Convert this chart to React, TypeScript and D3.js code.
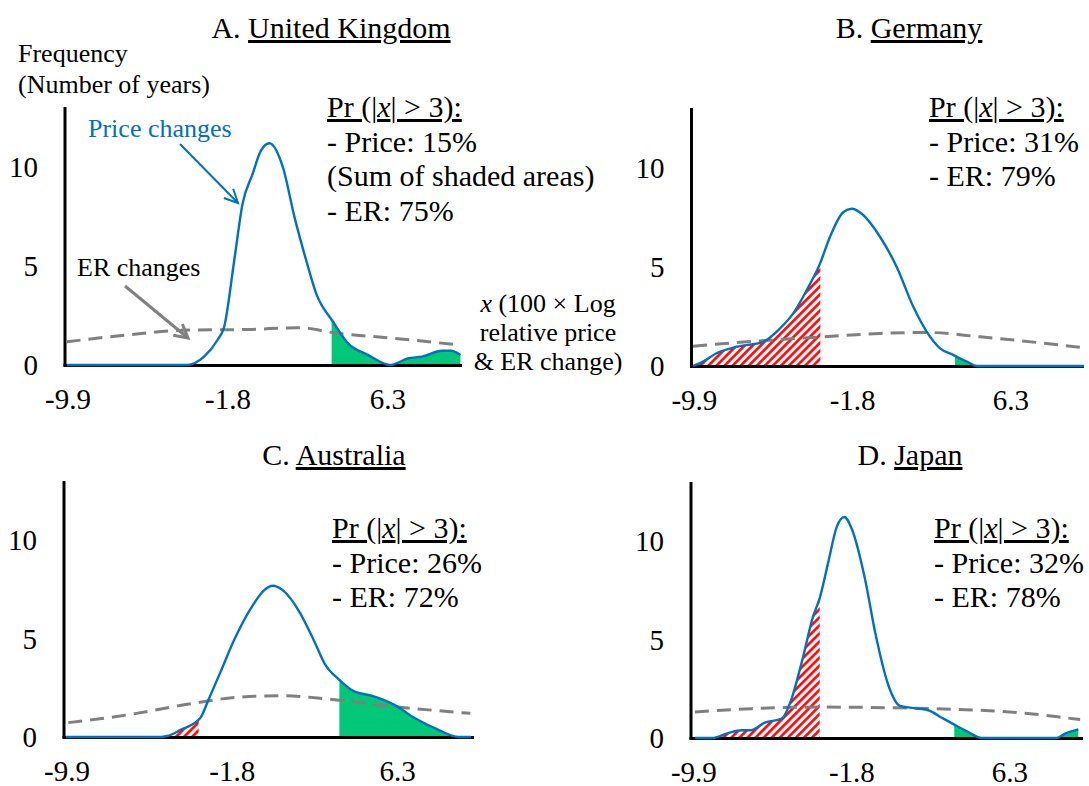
import React from 'react';
import * as d3 from 'd3';

// ---------- data ----------
const xTicks = [-9.9, -1.8, 6.3];
const yTicks = [0, 5, 10];
const xDomain: [number, number] = [-10.05, 10.05];
const yDomain: [number, number] = [0, 13];
const tailCut = [-3.45, 3.45];

type Pt = [number, number];

const ukPrice: Pt[] = [
  [-9.95, 0], [-6, 0], [-3.86, 0], [-3.01, 0.42], [-2.33, 1.26], [-1.99, 1.93], [-1.48, 5.28],
  [-1.06, 8.12], [-0.55, 9.63], [-0.13, 10.8], [0.3, 11.17], [0.98, 9.97], [1.57, 7.45],
  [2.16, 5.28], [2.67, 3.6], [3.52, 2.18], [4.28, 1.09], [5.3, 0.5], [6.4, 0], [7.34, 0.34],
  [8.02, 0.42], [9.03, 0.72], [9.5, 0.72], [9.97, 0.5],
];
const ukER: Pt[] = [
  [-9.97, 1.17], [-6.91, 1.51], [-3.86, 1.76], [-0.81, 1.79], [1.74, 1.88], [3.78, 1.59],
  [6.66, 1.34], [9.97, 1.0],
];

const dePrice: Pt[] = [
  [-9.97, 0], [-9.46, 0.22], [-8.77, 0.64], [-7.74, 0.97], [-6.38, 1.22], [-5.52, 1.89],
  [-4.84, 2.65], [-4.15, 3.82], [-3.47, 5.16], [-2.96, 6.5], [-2.28, 7.75], [-1.84, 7.92],
  [-1.33, 7.67], [-0.39, 6.5], [0.46, 4.99], [1.31, 2.98], [2.0, 1.72], [2.68, 0.89],
  [3.37, 0.55], [4.05, 0.22], [4.57, 0], [7, 0], [10.05, 0],
];
const deER: Pt[] = [
  [-9.97, 1.0], [-7.23, 1.22], [-3.81, 1.44], [-0.39, 1.64], [2.0, 1.69], [4.73, 1.47],
  [9.35, 1.0], [9.97, 0.93],
];

const auPrice: Pt[] = [
  [-9.95, 0], [-7, 0], [-5.32, 0], [-4.99, 0.05], [-4.34, 0.36], [-3.38, 0.95], [-2.94, 1.96],
  [-2.37, 3.32], [-1.71, 4.92], [-0.89, 6.53], [-0.23, 7.46], [0.18, 7.68], [0.67, 7.46],
  [1.49, 6.36], [2.23, 4.84], [2.72, 3.74], [3.46, 2.89], [4.2, 2.3], [5.02, 2.1], [6.17, 1.62],
  [7.16, 0.95], [8.31, 0.36], [9.29, 0], [9.9, 0],
];
const auER: Pt[] = [
  [-9.84, 0.73], [-6.96, 1.12], [-4.01, 1.66], [-1.71, 2.0], [0.59, 2.1], [2.89, 1.93],
  [6.17, 1.54], [9.87, 1.2],
];

const jpPrice: Pt[] = [
  [-9.85, 0], [-8.99, 0], [-8.14, 0.25], [-7.45, 0.39], [-7.02, 0.39], [-6.26, 0.78],
  [-5.4, 0.98], [-4.89, 2.0], [-4.37, 3.86], [-3.78, 6.2], [-3.45, 7.1], [-3.01, 8.93],
  [-2.58, 10.71], [-2.19, 11.22], [-1.81, 10.63], [-1.13, 8.09], [-0.61, 5.38], [0.07, 2.68],
  [0.67, 1.63], [1.61, 1.49], [2.12, 1.41], [2.81, 1.03], [3.45, 0.68], [4.17, 0.3], [4.86, 0],
  [8.7, 0], [9.13, 0.22], [9.81, 0.44],
];
const jpER: Pt[] = [
  [-9.85, 1.32], [-6.94, 1.49], [-3.52, 1.57], [-0.1, 1.54], [3.32, 1.46], [6.74, 1.29],
  [9.55, 0.98], [9.9, 0.94],
];

const panelLetters = ['A.', 'B.', 'C.', 'D.'];
const countries = ['United Kingdom', 'Germany', 'Australia', 'Japan'];
const priceSeries = [ukPrice, dePrice, auPrice, jpPrice];
const erSeries = [ukER, deER, auER, jpER];
const prLines = [
  ['- Price: 15%', '(Sum of shaded areas)', '- ER: 75%'],
  ['- Price: 31%', '- ER: 79%'],
  ['- Price: 26%', '- ER: 72%'],
  ['- Price: 32%', '- ER: 78%'],
];

// ---------- layout ----------
const layouts = [
  { left: 65, right: 462, top: 107, base: 365, titleX: 331, titleY: 38, prX: 327, prY: 117 },
  { left: 691.5, right: 1084, top: 108, base: 366, titleX: 909, titleY: 38, prX: 929, prY: 117 },
  { left: 64, right: 474, top: 481, base: 737, titleX: 334, titleY: 465, prX: 332, prY: 538 },
  { left: 691, right: 1083, top: 482, base: 738, titleX: 910, titleY: 465, prX: 934, prY: 538 },
];

const FONT = '"Liberation Serif", "Times New Roman", serif';
const BLUE = '#0070C0';
const GRAY = '#808080';
const GREEN = '#00C878';
const RED = '#FF0000';

function arrowHead(x1: number, y1: number, x2: number, y2: number, len: number, ang: number) {
  const a = Math.atan2(y2 - y1, x2 - x1);
  const p1 = [x2 - len * Math.cos(a - ang), y2 - len * Math.sin(a - ang)];
  const p2 = [x2 - len * Math.cos(a + ang), y2 - len * Math.sin(a + ang)];
  return `M${p1[0]},${p1[1]}L${x2},${y2}L${p2[0]},${p2[1]}`;
}

function Panel({ i }: { i: number }) {
  const L = layouts[i];
  const x = d3.scaleLinear().domain(xDomain).range([L.left, L.right]);
  const y = d3.scaleLinear().domain(yDomain).range([L.base, L.top]);
  const line = d3.line<Pt>().x(d => x(d[0])).y(d => y(d[1])).curve(d3.curveMonotoneX);
  const area = d3.area<Pt>().x(d => x(d[0])).y0(y(0)).y1(d => y(d[1])).curve(d3.curveMonotoneX);
  const price = priceSeries[i];
  const er = erSeries[i];
  const idL = `clipL${i}`;
  const idR = `clipR${i}`;
  const fs = 30;
  return (
    <g>
      <defs>
        <clipPath id={idL}>
          <rect x={x(xDomain[0])} y={y(13) - 5} width={x(tailCut[0]) - x(xDomain[0])} height={y(0) - y(13) + 5} />
        </clipPath>
        <clipPath id={idR}>
          <rect x={x(tailCut[1])} y={y(13) - 5} width={x(xDomain[1]) - x(tailCut[1])} height={y(0) - y(13) + 5} />
        </clipPath>
      </defs>
      <path d={area(price) || ''} fill="url(#hatch)" clipPath={`url(#${idL})`} />
      <path d={area(price) || ''} fill={GREEN} clipPath={`url(#${idR})`} />
      {/* axes */}
      <line x1={x(xDomain[0])} x2={x(xDomain[0])} y1={y(13)} y2={y(0) + 1.5} stroke="#000" strokeWidth={3} />
      <line x1={x(xDomain[0]) - 1.5} x2={x(xDomain[1])} y1={y(0) + 0.5} y2={y(0) + 0.5} stroke="#000" strokeWidth={3} />
      <path d={line(er) || ''} fill="none" stroke={GRAY} strokeWidth={3} strokeDasharray="14 8" />
      <path d={line(price) || ''} fill="none" stroke={BLUE} strokeWidth={2.4} strokeLinejoin="round" />
      {yTicks.map(t => (
        <text key={t} x={L.left - 27} y={y(t) + 10} textAnchor="end" fontSize={29} fontFamily={FONT}>{t}</text>
      ))}
      {xTicks.map(t => (
        <text key={t} x={x(t)} y={L.base + 44} textAnchor="middle" fontSize={29} fontFamily={FONT}>{t}</text>
      ))}
      <text x={L.titleX} y={L.titleY} textAnchor="middle" fontSize={fs} fontFamily={FONT}>
        <tspan>{panelLetters[i]} </tspan>
        <tspan textDecoration="underline" style={{ textDecoration: 'underline' }}>{countries[i]}</tspan>
      </text>
      <text x={L.prX} y={L.prY} fontSize={fs} fontFamily={FONT} style={{ textDecoration: 'underline' }}>
        <tspan>Pr (|</tspan>
        <tspan fontStyle="italic">x</tspan>
        <tspan>| &gt; 3):</tspan>
      </text>
      {prLines[i].map((s, k) => (
        <text key={k} x={L.prX} y={L.prY + 34.5 * (k + 1)} fontSize={fs} fontFamily={FONT}>{s}</text>
      ))}
    </g>
  );
}

export default function App() {
  return (
    <svg width={1089} height={786} style={{ position: 'absolute', left: 0, top: 0, background: '#fff' }}>
      <defs>
        <pattern id="hatch" patternUnits="userSpaceOnUse" width={5.7} height={5.7} patternTransform="rotate(45)">
          <rect width={5.7} height={5.7} fill="#fff" />
          <line x1={1.4} y1={0} x2={1.4} y2={5.7} stroke={RED} strokeWidth={2.6} />
        </pattern>
      </defs>
      <rect width={1089} height={786} fill="#fff" />
      {[0, 1, 2, 3].map(i => <Panel key={i} i={i} />)}
      {/* Panel A annotations */}
      <text x={18} y={62} fontSize={26} fontFamily={FONT}>Frequency</text>
      <text x={18} y={93} fontSize={26} fontFamily={FONT}>(Number of years)</text>
      <text x={88} y={137} fontSize={26} fontFamily={FONT} fill={BLUE}>Price changes</text>
      <line x1={180} y1={144} x2={238} y2={203} stroke={BLUE} strokeWidth={2} />
      <path d={arrowHead(180, 144, 238, 203, 15, 0.45)} fill="none" stroke={BLUE} strokeWidth={2} />
      <text x={77} y={276} fontSize={26} fontFamily={FONT}>ER changes</text>
      <line x1={125} y1={286} x2={188} y2={338} stroke={GRAY} strokeWidth={3} />
      <path d={arrowHead(125, 286, 188, 338, 15, 0.5)} fill="none" stroke={GRAY} strokeWidth={3} />
      <text x={548} y={312} textAnchor="middle" fontSize={26} fontFamily={FONT}>
        <tspan fontStyle="italic">x</tspan>
        <tspan> (100 × Log</tspan>
      </text>
      <text x={548} y={341} textAnchor="middle" fontSize={26} fontFamily={FONT}>relative price</text>
      <text x={548} y={370} textAnchor="middle" fontSize={26} fontFamily={FONT}>&amp; ER change)</text>
    </svg>
  );
}
